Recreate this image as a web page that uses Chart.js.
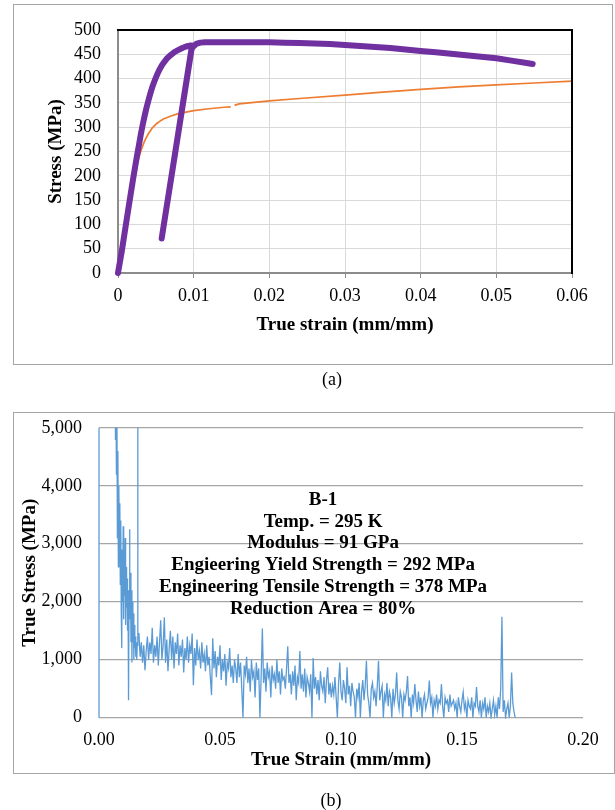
<!DOCTYPE html>
<html><head><meta charset="utf-8">
<script src="https://cdn.jsdelivr.net/npm/chart.js@4.4.0/dist/chart.umd.min.js"></script>
<style>
html,body{margin:0;padding:0;background:#fff;width:615px;height:810px;overflow:hidden;}
.box{position:absolute;border:1px solid #A6A6A6;box-sizing:border-box;}
canvas{position:absolute;left:0;}
.cap{position:absolute;font-family:'Liberation Serif','Times New Roman',serif;font-size:18px;color:#000;transform:translate(-50%,-50%);white-space:nowrap;}
</style></head><body>
<div class="box" style="left:13px;top:4px;width:600px;height:361px;"></div>
<div class="box" style="left:13px;top:412px;width:602px;height:362px;"></div>
<canvas id="ca" width="615" height="370" style="top:0"></canvas>
<canvas id="cb" width="615" height="380" style="top:400px"></canvas>
<div class="cap" style="left:332px;top:379px">(a)</div>
<div class="cap" style="left:331px;top:800px">(b)</div>
<script>
// ---------- Chart (a) data ----------
const xTickValuesA = [0, 0.01, 0.02, 0.03, 0.04, 0.05, 0.06];
const xTickLabelsA = ['0', '0.01', '0.02', '0.03', '0.04', '0.05', '0.06'];
const yTickValuesA = [0, 50, 100, 150, 200, 250, 300, 350, 400, 450, 500];
const yTickLabelsA = ['0', '50', '100', '150', '200', '250', '300', '350', '400', '450', '500'];

const strainPurpleA = [0, 0.0005, 0.001, 0.0015, 0.002, 0.0025, 0.00275, 0.003, 0.00325, 0.0035, 0.00375, 0.004, 0.00425, 0.0045, 0.00475, 0.005, 0.00525, 0.0055, 0.00575, 0.006,
  0.0065, 0.007, 0.0075, 0.008, 0.0085, 0.009, 0.0095, 0.0098,
  0.00577, 0.0097, 0.0100, 0.0104, 0.0109, 0.0115, 0.012, 0.014, 0.016, 0.018, 0.020, 0.022, 0.024, 0.026, 0.028, 0.030, 0.032, 0.034, 0.036, 0.038, 0.040, 0.042, 0.044, 0.046, 0.048, 0.050, 0.052, 0.054, 0.0548];
const stressPurpleA = [0, 45, 95, 145, 194, 240, 262, 284, 304, 322, 339, 354, 368, 381, 392, 402, 411, 419, 426, 432,
  442, 449, 455, 459, 463, 466, 468, 468,
  71, 460, 467, 472, 474, 475, 475, 475, 475, 475, 475, 474, 473, 472, 471, 469, 467, 465, 463, 460, 457, 454, 451, 448, 445, 442, 437, 432, 430];

const strainOrangeA = [0, 0.001, 0.002, 0.00225, 0.0025, 0.00275, 0.003, 0.00325, 0.0035, 0.00375, 0.004, 0.0045, 0.005, 0.0055, 0.006, 0.007, 0.008, 0.009, 0.010, 0.012, 0.014, 0.0149, 0.0151, 0.0154, 0.016, 0.020, 0.024, 0.030, 0.035, 0.040, 0.045, 0.050, 0.055, 0.060, 0.0605];
const stressOrangeA = [0, 95, 188, 207, 223, 237, 250, 261, 271, 279, 286, 298, 306, 312, 317, 323, 328, 331, 334, 338, 341, 342, null, 345, 348, 354, 359, 366, 372, 378, 383, 387, 391, 395, 396];

// ---------- Chart (b) data ----------
const xTickValuesB = [0, 0.05, 0.10, 0.15, 0.20];
const xTickLabelsB = ['0.00', '0.05', '0.10', '0.15', '0.20'];
const yTickValuesB = [0, 1000, 2000, 3000, 4000, 5000];
const yTickLabelsB = ['0', '1,000', '2,000', '3,000', '4,000', '5,000'];

const strainEarlyB = [0, 0, 0.0066, 0.0068, 0.0070, 0.0072, 0.0074, 0.0076, 0.0078, 0.0080, 0.0082, 0.0084, 0.0086, 0.0088, 0.0090, 0.0092, 0.0094, 0.0096, 0.0098,
  0.0100, 0.0102, 0.0104, 0.0106, 0.0108, 0.0110, 0.0112, 0.0114, 0.0116, 0.0118, 0.0120, 0.0122, 0.0124, 0.0126, 0.0128, 0.0130, 0.0132, 0.0134, 0.0136, 0.0138,
  0.0140, 0.0142, 0.0144, 0.0146, 0.0148, 0.0150, 0.0152, 0.0154, 0.0156, 0.0158, 0.0160, 0.0161];
const stressEarlyB = [0, 9000, 9000, 4800, 5600, 4200, 5300, 3100, 4600, 2600, 4000, 2900, 3700, 2300, 3400, 1800, 1200, 2900, 2000,
  3300, 1700, 2800, 2100, 3100, 1600, 2600, 1900, 2400, 1500, 2200, 300, 2000, 3250, 1700, 2500, 1300, 2200, 950, 2000,
  1300, 1800, 1000, 1600, 1200, 1400, 1050, 1300, 1000, 1250, 9000, 1450];

const strainMainStartB = 0.0165;
const strainMainStepB = 0.0005;
const stressMainB = [
  1450, 1050, 1300, 950, 1250, 820, 1150, 1400, 1000, 1300, 1100, 1550, 950, 1250, 1050, 1400, 900, 1300, 1680, 1000,
  1250, 1730, 950, 1350, 800, 1200, 1500, 1000, 1400, 850, 1300, 1100, 1450, 900, 1250, 1050, 1350, 780, 1200, 1000,
  1400, 950, 1250, 1100, 1450, 560, 1200, 900, 1350, 1000, 1150, 850, 1300, 950, 1100, 800, 1250, 900, 1050, 700,
  390, 1370, 850, 1150, 700, 1050, 900, 1250, 650, 1000, 800, 1100, 550, 950, 850, 1200, 700, 900, 600, 1000,
  850, 600, 1100, 700, 950, 500, 0, 900, 750, 1050, 600, 850, 450, 1000, 700, 800, 350, 950, 650, 850,
  0, 700, 1540, 600, 850, 450, 950, 700, 800, 350, 900, 650, 750, 500, 1000, 600, 800, 400, 850, 650,
  700, 500, 850, 1230, 600, 750, 400, 800, 550, 900, 300, 700, 600, 1150, 500, 750, 450, 850, 350, 700,
  600, 450, 750, 0, 1030, 500, 700, 400, 650, 300, 800, 550, 450, 700, 250, 650, 870, 400, 600, 350,
  550, 400, 700, 350, 0, 600, 950, 450, 300, 650, 500, 250, 870, 400, 550, 200, 600, 450, 350, 0,
  500, 350, 600, 0, 450, 650, 300, 550, 980, 400, 250, 0, 500, 600, 350, 450, 200, 550, 980, 300,
  450, 550, 0, 400, 300, 600, 200, 450, 350, 0, 500, 250, 400, 780, 300, 150, 450, 350, 0, 400,
  300, 450, 720, 200, 350, 0, 400, 250, 580, 300, 100, 450, 200, 350, 0, 300, 400, 150, 250, 350,
  640, 250, 350, 0, 300, 200, 400, 150, 300, 250, 580, 200, 0, 350, 250, 300, 100, 400, 200, 250,
  300, 150, 250, 0, 350, 200, 100, 300, 440, 150, 250, 0, 300, 200, 150, 350, 0, 250, 200, 530,
  200, 100, 300, 0, 250, 150, 350, 0, 200, 100, 250, 0, 150, 300, 50, 200, 0, 350, 150, 500,
  1740, 100, 300, 0, 150, 250, 0, 200, 780, 250, 100, 0
];

const noteLinesB = ['B-1', 'Temp. = 295 K', 'Modulus = 91 GPa', 'Engieering Yield Strength = 292 MPa', 'Engineering Tensile Strength = 378 MPa', 'Reduction Area = 80%'];
const noteStrainB = 0.0926;
const noteStressB = 3760;

// ---------- common ----------
const SERIF = "'Liberation Serif', 'Times New Roman', serif";
Chart.defaults.font.family = SERIF;
Chart.defaults.color = '#000';

function pairs(xs, ys) { return xs.map((x, i) => ({ x: x, y: ys[i] })); }
function fixedTicks(vals) { return s => { s.ticks = vals.map(v => ({ value: v })); }; }
function labelFor(vals, labels) { return v => { const i = vals.findIndex(t => Math.abs(t - v) < 1e-9); return i >= 0 ? labels[i] : ''; }; }

// ---------- Chart (a) ----------
const frameA = {
  id: 'frameA',
  afterDraw(chart) {
    const { ctx, chartArea: { left, top, right, bottom } } = chart;
    ctx.save();
    ctx.strokeStyle = '#000';
    ctx.lineWidth = 2;
    ctx.beginPath();
    ctx.moveTo(left - 1, top);
    ctx.lineTo(right, top);
    ctx.lineTo(right, bottom + 1);
    ctx.stroke();
    ctx.restore();
  }
};

new Chart(document.getElementById('ca'), {
  type: 'line',
  data: {
    datasets: [
      { data: pairs(strainPurpleA, stressPurpleA), borderColor: '#7030A0', borderWidth: 6, pointRadius: 0, tension: 0,
        borderCapStyle: 'round', borderJoinStyle: 'round', clip: { left: 5, bottom: 5, top: 0, right: 0 } },
      { data: pairs(strainOrangeA, stressOrangeA), borderColor: '#ED7D31', borderWidth: 1.7, pointRadius: 0, tension: 0,
        spanGaps: false, borderJoinStyle: 'round', clip: { left: 2, bottom: 2, top: 0, right: 1 } }
    ]
  },
  options: {
    responsive: false, animation: false, events: [], devicePixelRatio: 1,
    layout: { padding: { left: 45, right: 43, top: 30, bottom: 33.6 } },
    plugins: { legend: { display: false }, tooltip: { enabled: false } },
    scales: {
      x: {
        type: 'linear', min: 0, max: 0.06,
        afterBuildTicks: fixedTicks(xTickValuesA),
        afterFit: s => { s.height = 63.4; },
        ticks: { callback: labelFor(xTickValuesA, xTickLabelsA), font: { size: 18 }, color: '#000', padding: 7, maxRotation: 0, autoSkip: false },
        grid: { color: '#D9D9D9', lineWidth: 1, drawTicks: true, tickLength: 5, tickColor: '#8C8C8C', tickWidth: 1 },
        border: { display: true, color: '#8C8C8C', width: 2 },
        title: { display: true, text: 'True strain (mm/mm)', font: { size: 19, weight: 'bold' }, color: '#000', padding: 0 }
      },
      y: {
        type: 'linear', min: 0, max: 500,
        afterBuildTicks: fixedTicks(yTickValuesA),
        afterFit: s => { s.width = 73; },
        ticks: { callback: labelFor(yTickValuesA, yTickLabelsA), font: { size: 18 }, color: '#000', padding: 17, autoSkip: false },
        grid: { color: '#D9D9D9', lineWidth: 1, drawTicks: false },
        border: { display: true, color: '#8C8C8C', width: 2 },
        title: { display: true, text: 'Stress (MPa)', font: { size: 19, weight: 'bold' }, color: '#000', padding: 0 }
      }
    }
  },
  plugins: [frameA]
});

// ---------- Chart (b) ----------
const mainStrainB = stressMainB.map((_, i) => +(strainMainStartB + i * strainMainStepB).toFixed(5));
const dataB = pairs(strainEarlyB, stressEarlyB).concat(pairs(mainStrainB, stressMainB));

const noteB = {
  id: 'noteB',
  afterDatasetsDraw(chart) {
    const { ctx, scales: { x, y } } = chart;
    const px = x.getPixelForValue(noteStrainB), py = y.getPixelForValue(noteStressB);
    ctx.save();
    ctx.font = 'bold 19px ' + SERIF;
    ctx.fillStyle = '#000';
    ctx.textAlign = 'center';
    ctx.textBaseline = 'middle';
    noteLinesB.forEach((t, i) => ctx.fillText(t, px, py + i * 21.9));
    ctx.restore();
  }
};

new Chart(document.getElementById('cb'), {
  type: 'line',
  data: {
    datasets: [
      { data: dataB, borderColor: '#5B9BD5', borderWidth: 1.3, pointRadius: 0, tension: 0,
        clip: { left: 2, bottom: 1, top: 0, right: 0 } }
    ]
  },
  options: {
    responsive: false, animation: false, events: [], devicePixelRatio: 1,
    layout: { padding: { left: 18.6, right: 32, top: 23.3, bottom: 8.6 } },
    plugins: { legend: { display: false }, tooltip: { enabled: false } },
    scales: {
      x: {
        type: 'linear', min: 0, max: 0.2,
        afterBuildTicks: fixedTicks(xTickValuesB),
        afterFit: s => { s.height = 53.7; },
        ticks: { callback: labelFor(xTickValuesB, xTickLabelsB), font: { size: 18 }, color: '#000', padding: 11.5, maxRotation: 0, autoSkip: false },
        grid: { display: false, drawTicks: false },
        border: { display: false },
        title: { display: true, text: 'True Strain (mm/mm)', font: { size: 19, weight: 'bold' }, color: '#000', padding: 0 }
      },
      y: {
        type: 'linear', min: 0, max: 5000,
        afterBuildTicks: fixedTicks(yTickValuesB),
        afterFit: s => { s.width = 80.4; },
        ticks: { callback: labelFor(yTickValuesB, yTickLabelsB), font: { size: 18 }, color: '#000', padding: 17, autoSkip: false },
        grid: { color: '#A6A6A6', lineWidth: 1.3, drawTicks: false },
        border: { display: false },
        title: { display: true, text: 'True Stress (MPa)', font: { size: 19, weight: 'bold' }, color: '#000', padding: 0 }
      }
    }
  },
  plugins: [noteB]
});
</script>
</body></html>
